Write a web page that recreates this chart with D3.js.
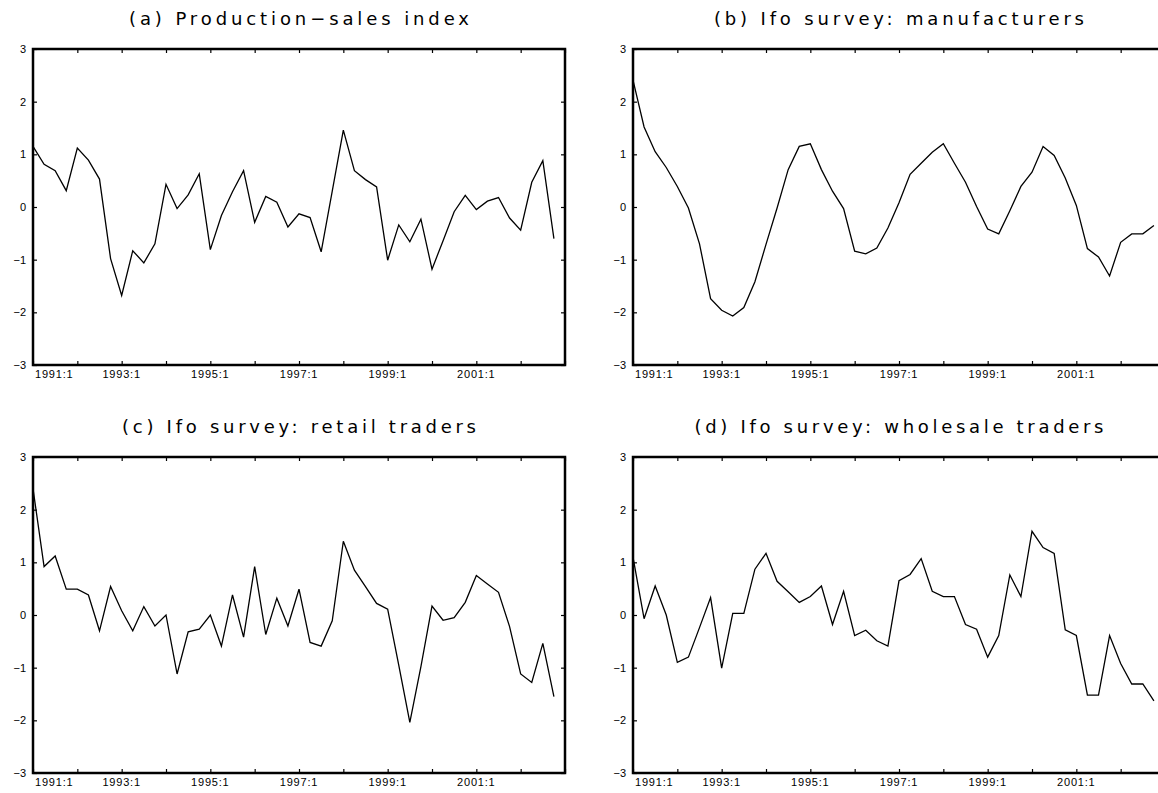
<!DOCTYPE html>
<html>
<head>
<meta charset="utf-8">
<script src="https://cdn.jsdelivr.net/npm/d3@7"></script>
<style>
  body { margin: 0; background: #fff; }
  svg { display: block; }
</style>
</head>
<body>
<div id="chart"></div>
<script>
// quarterly series, 1991:1 .. 2002:4 (48 obs each)
const startYear = 1991;
const endYear = 2003;

const productionSales = [
  1.15, 0.81, 0.69, 0.31, 1.12, 0.89, 0.53, -0.98,
  -1.68, -0.83, -1.06, -0.70, 0.43, -0.03, 0.23, 0.63,
  -0.81, -0.16, 0.29, 0.69, -0.29, 0.20, 0.09, -0.38,
  -0.13, -0.20, -0.85, 0.30, 1.46, 0.69, 0.52, 0.38,
  -1.01, -0.34, -0.66, -0.23, -1.18, -0.64, -0.09, 0.22,
  -0.05, 0.11, 0.18, -0.21, -0.44, 0.47, 0.88, -0.60
];
const ifoManufacturers = [
  2.41, 1.52, 1.05, 0.75, 0.39, -0.02, -0.70, -1.74,
  -1.96, -2.07, -1.91, -1.42, -0.71, -0.02, 0.71, 1.15,
  1.20, 0.71, 0.30, -0.03, -0.84, -0.89, -0.78, -0.40,
  0.08, 0.62, 0.83, 1.04, 1.20, 0.83, 0.47, 0.01,
  -0.42, -0.51, -0.07, 0.39, 0.66, 1.15, 0.98, 0.55,
  0.03, -0.79, -0.95, -1.31, -0.67, -0.51, -0.51, -0.35
];
const ifoRetail = [
  2.40, 0.92, 1.12, 0.49, 0.49, 0.38, -0.30, 0.54,
  0.08, -0.30, 0.16, -0.21, 0.00, -1.12, -0.32, -0.27,
  0.00, -0.59, 0.38, -0.42, 0.92, -0.37, 0.32, -0.21,
  0.49, -0.52, -0.59, -0.11, 1.40, 0.85, 0.54, 0.22,
  0.11, -0.95, -2.04, -0.98, 0.17, -0.10, -0.05, 0.24,
  0.75, 0.59, 0.43, -0.22, -1.12, -1.28, -0.54, -1.55
];
const ifoWholesale = [
  1.10, -0.07, 0.55, 0.00, -0.90, -0.80, -0.24, 0.33,
  -1.01, 0.03, 0.03, 0.87, 1.17, 0.64, 0.44, 0.24,
  0.35, 0.55, -0.18, 0.45, -0.39, -0.29, -0.49, -0.59,
  0.65, 0.77, 1.07, 0.45, 0.35, 0.35, -0.18, -0.27,
  -0.80, -0.39, 0.76, 0.35, 1.59, 1.28, 1.17, -0.28,
  -0.39, -1.52, -1.52, -0.39, -0.92, -1.31, -1.31, -1.63
];

const titles = [
  "(a) Production\u2212sales index",
  "(b) Ifo survey: manufacturers",
  "(c) Ifo survey: retail traders",
  "(d) Ifo survey: wholesale traders"
];
const xTickLabels = ["1991:1", "1993:1", "1995:1", "1997:1", "1999:1", "2001:1"];
const yTicks = [-3, -2, -1, 0, 1, 2, 3];

const width = 1158, height = 793;
const panelW = 532, panelH = 316;
const panels = [
  { x: 33,  y: 49,  data: productionSales,  titleLen: 340 },
  { x: 633, y: 49,  data: ifoManufacturers, titleLen: 370 },
  { x: 33,  y: 457, data: ifoRetail,        titleLen: 354 },
  { x: 633, y: 457, data: ifoWholesale,     titleLen: 409 }
];

const svg = d3.select("#chart").append("svg")
    .attr("width", width)
    .attr("height", height);

const x = d3.scaleLinear().domain([startYear, endYear]).range([0, panelW]);
const y = d3.scaleLinear().domain([-3, 3]).range([panelH, 0]);

const line = d3.line()
    .x((d, i) => x(startYear + i / 4))
    .y(d => y(d));

const yearTicks = d3.range(startYear, endYear + 1);

panels.forEach(function(p, idx) {
    const g = svg.append("g").attr("transform", `translate(${p.x},${p.y})`);

    // title
    g.append("text")
        .attr("x", panelW / 2)
        .attr("y", -24)
        .attr("text-anchor", "middle")
        .attr("font-family", "DejaVu Sans, sans-serif")
        .attr("font-size", 18)
        .attr("textLength", p.titleLen)
        .attr("lengthAdjust", "spacing")
        .text(titles[idx]);

    // series
    g.append("path")
        .datum(p.data)
        .attr("d", line)
        .attr("fill", "none")
        .attr("stroke", "#000")
        .attr("stroke-width", 1.3)
        .attr("stroke-linejoin", "miter");

    // inward ticks, bottom / top
    const xb = d3.axisBottom(x).tickValues(yearTicks).tickSize(-4).tickFormat("");
    const xt = d3.axisTop(x).tickValues(yearTicks).tickSize(-4).tickFormat("");
    g.append("g").attr("transform", `translate(0,${panelH})`).call(xb);
    g.append("g").call(xt);

    // inward ticks, left / right
    const yl = d3.axisLeft(y).tickValues(yTicks).tickSize(-4).tickFormat("");
    const yr = d3.axisRight(y).tickValues(yTicks).tickSize(-4).tickFormat("");
    g.append("g").call(yl);
    g.append("g").attr("transform", `translate(${panelW},0)`).call(yr);

    g.selectAll(".domain").remove();
    g.selectAll(".tick line").attr("stroke", "#000").attr("stroke-width", 1.2);

    // y labels
    g.selectAll(".ylab")
        .data(yTicks)
        .enter().append("text")
        .attr("x", -7)
        .attr("y", d => y(d))
        .attr("dy", "0.35em")
        .attr("text-anchor", "end")
        .attr("font-family", "Liberation Sans, Arial, sans-serif")
        .attr("font-size", 11)
        .text(d => d < 0 ? "\u2212" + Math.abs(d) : d);

    // x labels (every other year)
    g.selectAll(".xlab")
        .data(xTickLabels)
        .enter().append("text")
        .attr("x", (d, i) => i === 0 ? x(+d.slice(0, 4)) + 2 : x(+d.slice(0, 4)))
        .attr("y", panelH + 13)
        .attr("text-anchor", (d, i) => i === 0 ? "start" : "middle")
        .attr("font-family", "Liberation Sans, Arial, sans-serif")
        .attr("font-size", 11)
        .attr("letter-spacing", 0.8)
        .text(d => d);

    // frame
    g.append("rect")
        .attr("width", panelW)
        .attr("height", panelH)
        .attr("fill", "none")
        .attr("stroke", "#000")
        .attr("stroke-width", 2.5);
});
</script>
</body>
</html>
